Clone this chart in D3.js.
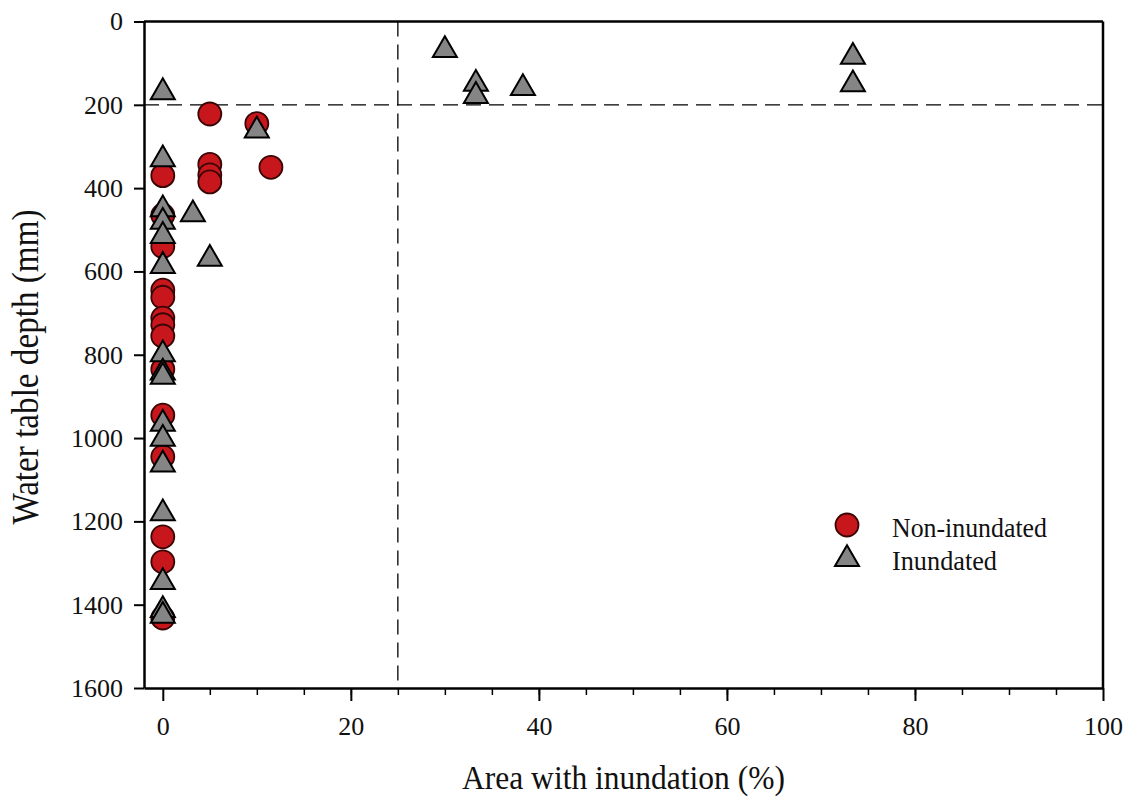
<!DOCTYPE html>
<html>
<head>
<meta charset="utf-8">
<script src="https://cdn.jsdelivr.net/npm/d3@7"></script>
<style>
  body { margin: 0; background: #fff; }
  text { font-family: "Liberation Serif", "Times New Roman", Times, serif; fill: #111; }
</style>
</head>
<body>
<div id="chart"></div>
<script>
"use strict";

// Non-inundated sites (circles)
var nonInundatedArea = [5, 10, 0, 5, 5, 5, 11.5, 0, 0, 0, 0, 0, 0, 0, 0, 0, 0, 0, 0, 0];
var nonInundatedDepth = [222, 245, 370, 343, 368, 385, 350, 465, 540, 645, 662, 712, 728, 755, 835, 945, 1045, 1237, 1297, 1432];

// Inundated sites (triangles)
var inundatedArea = [0, 10, 0, 0, 0, 3.2, 0, 5, 0, 0, 0, 0, 0, 0, 0, 0, 0, 0, 0, 30, 33.3, 33.3, 38.3, 73.4, 73.4];
var inundatedDepth = [165, 257, 326, 446, 476, 458, 510, 565, 582, 794, 838, 848, 961, 997, 1059, 1176, 1341, 1408, 1422, 64, 145, 174, 155, 80, 146];

var xTicks = [0, 20, 40, 60, 80, 100];
var xMinorTicks = d3.range(5, 100, 5);
var yTicks = [0, 200, 400, 600, 800, 1000, 1200, 1400, 1600];
var areaThreshold = 25;
var depthThreshold = 200;
var legendLabels = ["Non-inundated", "Inundated"];

var serif = "'Liberation Serif', 'Times New Roman', Times, serif";

var W = 1128, H = 798;
var margin = {top: 21.5, left: 144, right: 25, bottom: 110};
var width = W - margin.left - margin.right;
var height = H - margin.top - margin.bottom;

var svg = d3.select("#chart").append("svg")
    .attr("width", W)
    .attr("height", H);

var g = svg.append("g")
    .attr("transform", "translate(" + margin.left + "," + margin.top + ")");

var x = d3.scaleLinear().domain([-2, 100]).range([0, width]);
var y = d3.scaleLinear().domain([0, 1600]).range([0, height]);

// minor x ticks
g.append("g")
    .attr("transform", "translate(0," + height + ")")
    .call(d3.axisBottom(x).tickValues(xMinorTicks).tickSize(7).tickFormat(""))
    .call(a => a.select(".domain").remove())
    .selectAll("line").attr("stroke", "#000").attr("stroke-width", 1.5);

// x axis
var xAxis = g.append("g")
    .attr("transform", "translate(0," + height + ")")
    .attr("font-family", serif)
    .call(d3.axisBottom(x).tickValues(xTicks).tickSize(13).tickSizeOuter(0).tickFormat(d3.format("d")));
xAxis.attr("font-family", serif);
xAxis.select(".domain").attr("stroke-width", 2.5);
xAxis.selectAll("line").attr("stroke-width", 2);
xAxis.selectAll("text")
    .attr("y", 47).attr("dy", null)
    .style("font-family", serif)
    .style("font-size", "26px").attr("fill", "#111");

// y axis
var yAxis = g.append("g")
    .call(d3.axisLeft(y).tickValues(yTicks).tickSize(10).tickSizeOuter(0).tickPadding(11).tickFormat(d3.format("d")));
yAxis.attr("font-family", serif);
yAxis.select(".domain").attr("stroke-width", 2.5);
yAxis.selectAll("line").attr("stroke-width", 2);
yAxis.selectAll("text")
    .style("font-family", serif)
    .style("font-size", "26px").attr("fill", "#111");

// top and right frame
g.append("line").attr("x1", 0).attr("x2", width).attr("y1", 0).attr("y2", 0)
    .attr("stroke", "#000").attr("stroke-width", 2.5);
g.append("line").attr("x1", width).attr("x2", width).attr("y1", 0).attr("y2", height)
    .attr("stroke", "#000").attr("stroke-width", 2.5);

// threshold lines
g.append("line")
    .attr("x1", x(areaThreshold)).attr("x2", x(areaThreshold))
    .attr("y1", 0).attr("y2", height)
    .attr("stroke", "#000").attr("stroke-width", 1.3).attr("stroke-dasharray", "15,8");
g.append("line")
    .attr("x1", 0).attr("x2", width)
    .attr("y1", y(depthThreshold)).attr("y2", y(depthThreshold))
    .attr("stroke", "#000").attr("stroke-width", 1.3).attr("stroke-dasharray", "15,8");

var circleFill = "#c8171c", circleStroke = "#3a0505";
var triFill = "#858585", triStroke = "#000";
var triSym = d3.symbol().type(d3.symbolTriangle).size(250);

var nonInundated = nonInundatedArea.map((a, i) => ({area: a, depth: nonInundatedDepth[i]}));
var inundated = inundatedArea.map((a, i) => ({area: a, depth: inundatedDepth[i]}));

g.selectAll(".dot").data(nonInundated).enter()
    .append("circle")
    .attr("class", "dot")
    .attr("cx", d => x(d.area))
    .attr("cy", d => y(d.depth))
    .attr("r", 11.5)
    .attr("fill", circleFill)
    .attr("stroke", circleStroke)
    .attr("stroke-width", 1.8);

g.selectAll(".tri").data(inundated).enter()
    .append("path")
    .attr("class", "tri")
    .attr("d", triSym)
    .attr("transform", d => "translate(" + x(d.area) + "," + (y(d.depth) + 2) + ")")
    .attr("fill", triFill)
    .attr("stroke", triStroke)
    .attr("stroke-width", 2);

// axis titles (the original type is a bit condensed, hence textLength)
svg.append("text")
    .attr("x", margin.left + width / 2)
    .attr("y", 789)
    .attr("text-anchor", "middle")
    .attr("textLength", 323)
    .attr("lengthAdjust", "spacingAndGlyphs")
    .style("font-size", "34px")
    .text("Area with inundation (%)");

svg.append("text")
    .attr("transform", "translate(38,367) rotate(-90)")
    .attr("text-anchor", "middle")
    .attr("textLength", 315)
    .attr("lengthAdjust", "spacingAndGlyphs")
    .style("font-size", "37px")
    .text("Water table depth (mm)");

// legend
var legend = svg.append("g").attr("transform", "translate(847,525)");
legend.append("circle").attr("cx", 0).attr("cy", 0).attr("r", 11.5)
    .attr("fill", circleFill).attr("stroke", circleStroke).attr("stroke-width", 1.8);
legend.append("path").attr("d", triSym)
    .attr("transform", "translate(0,34)")
    .attr("fill", triFill).attr("stroke", triStroke).attr("stroke-width", 2);
var legendWidths = [155, 105];
legend.selectAll(".lt").data(legendLabels).enter()
    .append("text")
    .attr("x", 45)
    .attr("y", (d, i) => 12 + i * 33)
    .attr("textLength", (d, i) => legendWidths[i])
    .attr("lengthAdjust", "spacingAndGlyphs")
    .style("font-size", "28px")
    .text(d => d);
</script>
</body>
</html>
